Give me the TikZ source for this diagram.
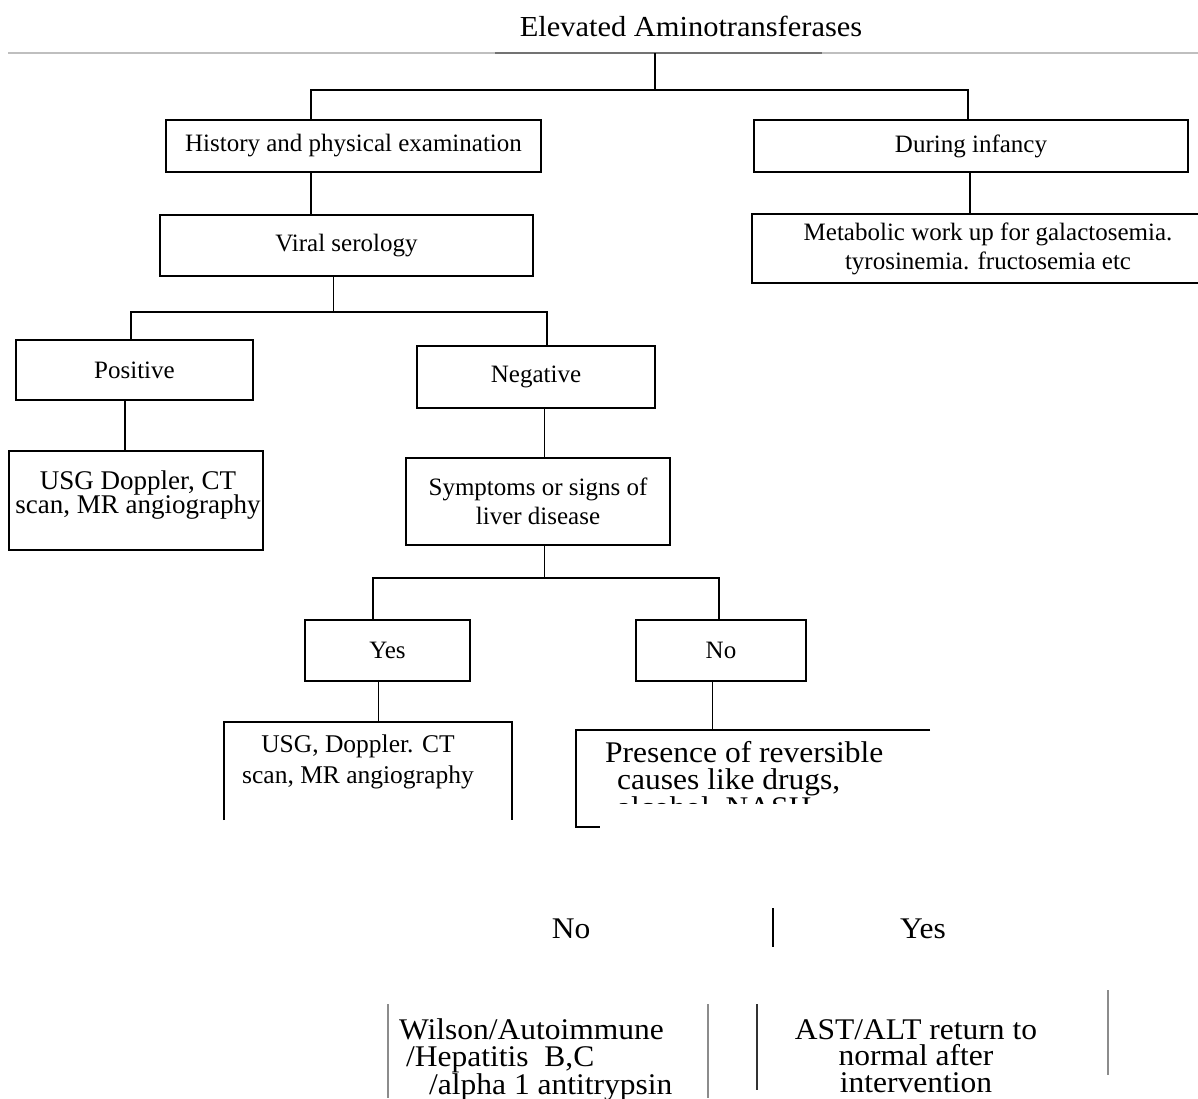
\documentclass[tikz,border=0pt]{standalone}
\usepackage{fontspec}
\setmainfont{Liberation Serif}
\newfontfamily\garafont[FakeStretch=1.05]{Liberation Serif}
\newcommand\bxf{\fontsize{25}{29}\selectfont}
\newcommand\bxg{\fontsize{27}{24.5}\selectfont}
\newcommand\ttlf{\garafont\fontsize{29}{30}\selectfont}
\newcommand\gaf{\garafont\fontsize{30}{26.5}\selectfont}
\newcommand\gapf{\garafont\fontsize{30}{27}\selectfont}
\begin{document}
\begin{tikzpicture}[x=1pt,y=-1pt,
  box/.style={draw=black, line width=1.8pt, inner sep=0pt, align=center, font=\bxf},
  ghost/.style={inner sep=0pt},
  conn/.style={draw=black, line width=1.8pt},
  thinl/.style={draw=black, line width=1pt},
  lbl/.style={inner sep=0pt, align=center},
  gtxt/.style={inner sep=0pt, font=\gaf},
  grayl/.style={draw=black!45, line width=1.2pt}]
\clip (0,0) rectangle (1198,1098);
\fill[white] (0,0) rectangle (1198,1098);

% title
\node[gtxt, font=\ttlf, anchor=base] (title) at (691,36) {Elevated Aminotransferases};
\draw[draw=black!25, line width=1.2pt] (8,53) -- (1198,53);
\draw[draw=black!55, line width=1.6pt] (495,53) -- (822,53);
\coordinate (titlebar) at (655,53);
\coordinate (j1) at (655,90);

% boxes
\node[box, minimum width=375pt, minimum height=52pt] (hist) at (353.5,146) {History and physical examination};
\node[box, minimum width=434pt, minimum height=52pt] (inf) at (971,146) {During infancy};
\node[box, minimum width=373pt, minimum height=61pt] (viral) at (346.5,245.5) {Viral serology};
\node[box, minimum width=472pt, minimum height=69pt] (meta) at (988,248.5) {Metabolic work up for galactosemia.\\tyrosinemia. fructosemia etc};
\node[box, minimum width=237pt, minimum height=60pt] (pos) at (134.5,370) {Positive};
\node[box, minimum width=238pt, minimum height=62pt] (neg) at (536,377) {Negative};
\node[box, minimum width=254pt, minimum height=99pt] (usg1) at (136,500.5) {};
\node[lbl, font=\bxg] (usg1txt) at (138,495) {USG Doppler, CT\\scan, MR angiography};
\node[box, minimum width=264pt, minimum height=87pt] (symp) at (538,501.5) {Symptoms or signs of\\liver disease};
\node[box, minimum width=165pt, minimum height=61pt] (yes) at (387.5,650.5) {Yes};
\node[box, minimum width=170pt, minimum height=61pt] (no) at (721,650.5) {No};

% open box USG 2
\node[ghost, minimum width=288pt, minimum height=98pt] (usg2) at (368,771) {};
\draw[line width=1.8pt] (usg2.south west) -- (usg2.north west) -- (usg2.north east) -- (usg2.south east);
\node[lbl, font=\fontsize{25.5}{31}\selectfont] (usg2txt) at (358,762) {USG, Doppler. CT\\scan, MR angiography};

% open box Presence
\node[ghost, minimum width=354pt, minimum height=97pt] (pres) at (753,778.5) {};
\draw[line width=1.8pt] (pres.north east) -- (pres.north west) -- (pres.south west) -- ++(24,0);
\begin{scope}
\clip (576,730) rectangle (930,803);
\node[gtxt, font=\gapf, align=left, anchor=west] (prestxt) at (605,782) {Presence of reversible\\\hspace*{12pt}causes like drugs,\\\hspace*{12pt}alcohol, NASH};
\end{scope}

% connectors
\draw[conn] (titlebar) -- (j1);
\draw[conn] (hist.north -| 311,0) |- (j1) -| (inf.north -| 968,0);
\draw[conn] (hist.south -| 311,0) -- (viral.north -| 311,0);
\draw[conn] (inf.south -| 970,0) -- (meta.north -| 970,0);
\coordinate (j2) at (333,312);
\draw[thinl] (viral.south -| j2) -- (j2);
\draw[conn, line width=1.5pt] (pos.north -| 131,0) |- (j2) -| (neg.north -| 547,0);
\draw[conn, line width=2.6pt] (pos.south -| 125,0) -- (usg1.north -| 125,0);
\draw[thinl] (neg.south -| 544,0) -- (symp.north -| 544,0);
\coordinate (j3) at (544,578);
\draw[thinl] (symp.south -| j3) -- (j3);
\draw[conn, line width=1.6pt] (yes.north -| 373,0) |- (j3) -| (no.north -| 719,0);
\draw[thinl] (yes.south -| 378,0) -- (usg2.north -| 378,0);
\draw[thinl] (no.south -| 712,0) -- (pres.north -| 712,0);

% bottom part
\node[gtxt, anchor=base] (bno) at (571,938) {No};
\node[gtxt, anchor=base] (byes) at (923,938) {Yes};
\draw[line width=2pt] (773,908) -- (773,947);

\draw[grayl] (388,1004) -- (388,1098);
\draw[grayl] (708,1004) -- (708,1098);
\draw[draw=black!80, line width=1.1pt] (757,1004) -- (757,1090);
\draw[grayl] (1108,990) -- (1108,1075);

\node[gtxt, align=left, anchor=west] (wil) at (399,1060) {Wilson/Autoimmune\\\hspace*{7pt}/Hepatitis\ \ B,C\\\hspace*{30pt}/alpha 1 antitrypsin};
\node[gtxt, align=center] (ast) at (916,1056) {AST/ALT return to\\normal after\\intervention};
\end{tikzpicture}
\end{document}
